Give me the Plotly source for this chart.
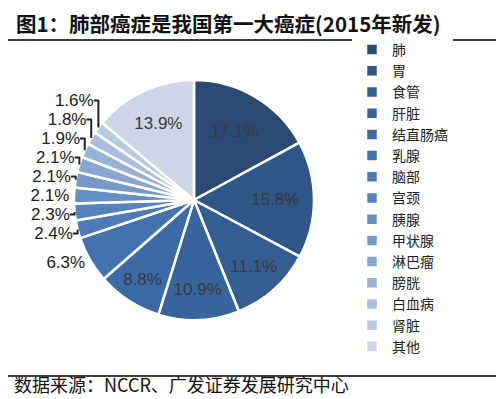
import plotly.graph_objects as go

categories = ["肺", "胃", "食管", "肝脏", "结直肠癌", "乳腺", "脑部", "宫颈", "胰腺",
              "甲状腺", "淋巴瘤", "膀胱", "白血病", "肾脏", "其他"]
values = [17.1, 15.8, 11.1, 10.9, 8.8, 6.3, 2.4, 2.3, 2.1, 2.1, 2.1, 1.9, 1.8, 1.6, 13.9]
colors = ["#2B4A73", "#2F5687", "#345D93", "#38649E", "#3C6AA6", "#4472AE", "#4D7AB5",
          "#5583BA", "#6690C3", "#7799C8", "#88A5CF", "#98B1D5", "#A8BEDB", "#B8C8E1", "#CDD5E7"]

text_labels = [f"{v:.1f}%" for v in values]
positions = ["inside" if v > 8 else "outside" for v in values]

fig = go.Figure(go.Pie(
    labels=categories,
    values=values,
    text=text_labels,
    textinfo="text",
    textposition=positions,
    sort=False,
    direction="clockwise",
    rotation=0,
    marker=dict(colors=colors, line=dict(color="white", width=2.5)),
    textfont=dict(family="Liberation Sans, Arial", size=17, color="#3a3a3a"),
    insidetextorientation="horizontal",
    outsidetextfont=dict(family="Liberation Sans, Arial", size=17, color="#222222"),
    domain=dict(x=[66 / 504, 306 / 504], y=[1 - 312 / 399, 1 - 72 / 399]),
    showlegend=True,
))

fig.update_layout(
    width=504, height=399,
    margin=dict(l=0, r=0, t=0, b=0),
    paper_bgcolor="white",
    plot_bgcolor="white",
    font=dict(family="Noto Sans CJK SC", color="#222222"),
    legend=dict(
        x=344 / 504, y=1 - 26 / 399, xanchor="left", yanchor="top",
        font=dict(family="Noto Sans CJK SC", size=14, color="#222222"),
        itemwidth=30, tracegroupgap=0,
    ),
    annotations=[
        dict(text="<b>图1：肺部癌症是我国第一大癌症(2015年新发)</b>", x=6 / 504, y=1 - 15 / 399,
             xref="paper", yref="paper", xanchor="left", yanchor="middle", showarrow=False,
             font=dict(family="Noto Sans CJK SC", size=20.5, color="#111111")),
        dict(text="数据来源：NCCR、广发证券发展研究中心", x=4 / 504, y=1 - 376 / 399,
             xref="paper", yref="paper", xanchor="left", yanchor="middle", showarrow=False,
             font=dict(family="Noto Sans CJK SC", size=18, color="#111111")),
    ],
    shapes=[
        dict(type="line", xref="paper", yref="paper", x0=0, x1=1, y0=1 - 32 / 399, y1=1 - 32 / 399,
             line=dict(color="#000000", width=1.5)),
        dict(type="line", xref="paper", yref="paper", x0=0, x1=1, y0=1 - 368 / 399, y1=1 - 368 / 399,
             line=dict(color="#000000", width=1.5)),
    ],
)

fig.write_html("out.html")
